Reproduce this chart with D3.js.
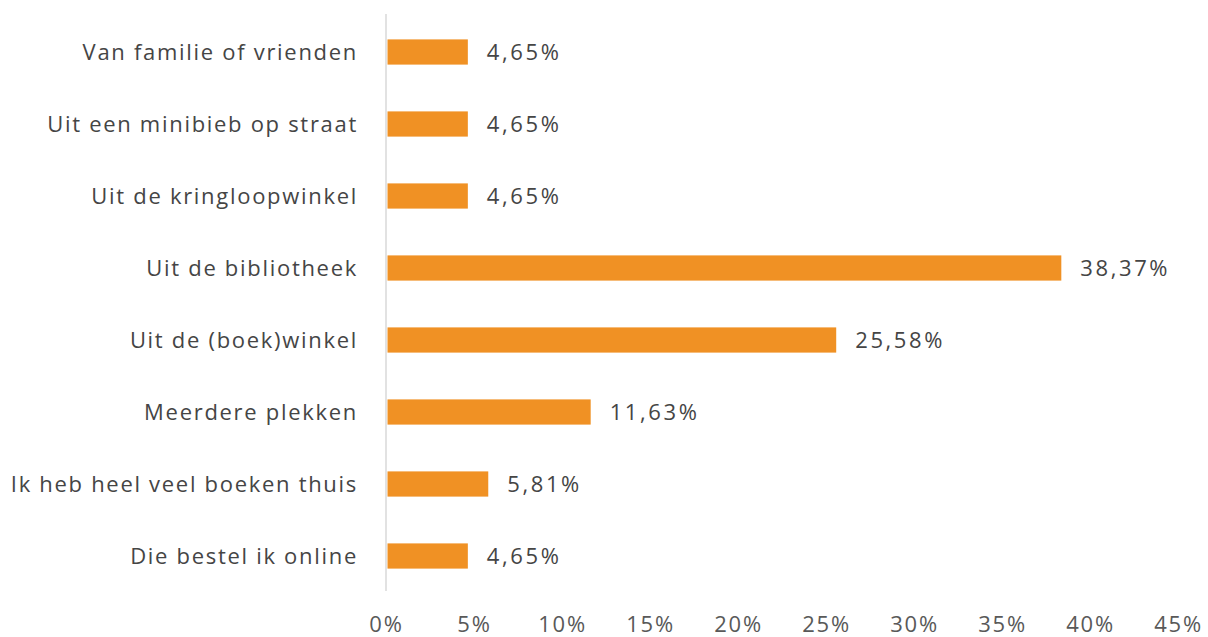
<!DOCTYPE html>
<html><head><meta charset="utf-8">
<script src="https://cdn.jsdelivr.net/npm/d3@7"></script>
<style>html,body{margin:0;padding:0;background:#fff}</style>
</head><body>
<svg id="c" width="1208" height="637"></svg>
<script>
const categories = ["Van familie of vrienden","Uit een minibieb op straat","Uit de kringloopwinkel","Uit de bibliotheek","Uit de (boek)winkel","Meerdere plekken","Ik heb heel veel boeken thuis","Die bestel ik online"];
const values = [4.65,4.65,4.65,38.37,25.58,11.63,5.81,4.65];
const tickValues = [0,5,10,15,20,25,30,35,40,45];

const svg = d3.select("#c");
const font = "'Open Sans', 'Noto Sans', sans-serif";
const x = d3.scaleLinear().domain([0,45]).range([386,1178]);
const y = d3.scaleBand().domain(categories).range([16,592]).paddingInner(0.65).paddingOuter(0.325);

svg.append("line").attr("x1",x(0)).attr("x2",x(0)).attr("y1",14).attr("y2",591)
  .attr("stroke","#d9d9d9").attr("stroke-width",1.5);

svg.append("g").selectAll("rect").data(values).join("rect")
  .attr("x",x(0)+1.5).attr("y",(d,i)=>y(categories[i]))
  .attr("width",d=>x(d)-x(0)-1.5).attr("height",y.bandwidth())
  .attr("fill","#F09124");

const fmt = d => d.toFixed(2).replace(".",",")+"%";
svg.append("g").selectAll("text").data(values).join("text")
  .attr("x",d=>x(d)+19).attr("y",(d,i)=>y(categories[i])+y.bandwidth()/2)
  .attr("dy","0.36em").attr("font-family",font).attr("font-size",22)
  .attr("letter-spacing",2.6).attr("fill","#454545")
  .text(fmt);

svg.append("g").selectAll("text").data(categories).join("text")
  .attr("x",358).attr("y",d=>y(d)+y.bandwidth()/2).attr("dy","0.36em")
  .attr("text-anchor","end").attr("font-family",font).attr("font-size",22)
  .attr("letter-spacing",1.7).attr("fill","#454545")
  .text(d=>d);

const ax = d3.axisBottom(x).tickValues(tickValues).tickFormat(d=>d+"%").tickSize(0);
const g = svg.append("g").call(ax);
g.select(".domain").remove();
g.selectAll("text").attr("y",632).attr("dy",0).attr("font-family",font).attr("font-size",22)
  .attr("letter-spacing",1.8).attr("fill","#595959");
</script>
</body></html>
